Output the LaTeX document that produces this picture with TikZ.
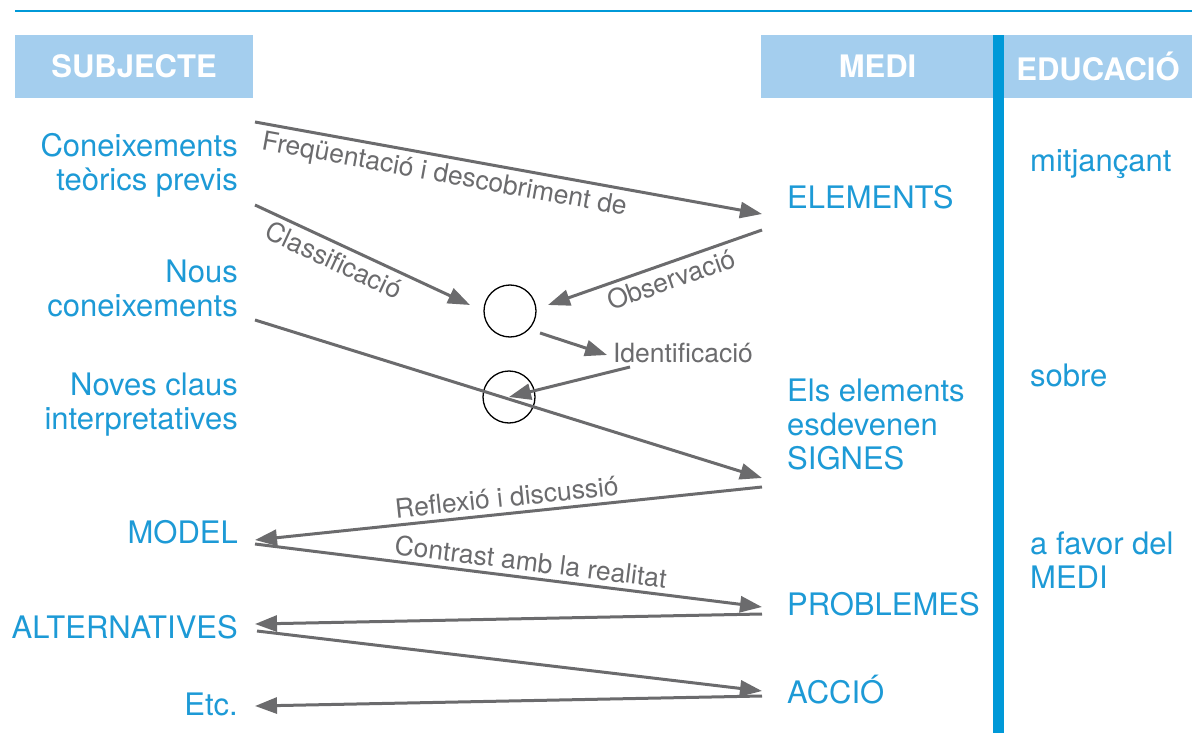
\documentclass[tikz,border=0pt]{standalone}
\usepackage{fontspec}
\setmainfont{TeX Gyre Heros}
\usepackage{tikz}
\usetikzlibrary{arrows.meta, positioning}

\definecolor{medblue}{HTML}{1D9AD6}
\definecolor{barblue}{HTML}{0099D8}
\definecolor{headblue}{HTML}{A4CEEE}
\definecolor{arrgray}{HTML}{6B6B6D}

\begin{document}
\begin{tikzpicture}[x=1pt, y=-1pt,
		txt/.style={text=medblue, font=\fontsize{31}{34}\selectfont, inner sep=0pt},
		lefttxt/.style={txt, anchor=east, align=right},
		righttxt/.style={txt, anchor=west, align=left},
		header/.style={fill=headblue, text=white, font=\fontsize{31}{34}\selectfont\bfseries, minimum height=63pt, inner sep=0pt},
		lbl/.style={text=arrgray, font=\fontsize{26.5}{28}\selectfont, inner sep=5pt},
		arr/.style={draw=arrgray, line width=3pt, -{Triangle[length=22pt,width=16pt]}},
		ring/.style={draw, circle, line width=1.3pt, minimum size=52pt, inner sep=0pt}]
		
		\useasboundingbox (0,0) rectangle (1192,749);
		
		% Header
		\draw[barblue, line width=2pt] (15,11) -- (1192,11);
		\node[header, minimum width=238pt] (hsubj) at (134,66.5) {SUBJECTE};
		\node[header, minimum width=233pt] (hmedi) at (877.5,66.5) {MEDI};
		\node[header, minimum width=188pt] (hedu) at (1098,66.5) {EDUCACIÓ};
		\fill[barblue] (993,35) rectangle (1004,733);
		
		% Nodes
		\node[lefttxt] (conei) at (238,165) {Coneixements\\teòrics previs};
		\node[lefttxt] (nous) at (238,288) {Nous\\coneixements};
		\node[lefttxt] (claus) at (238,405) {Noves claus\\interpretatives};
		\node[lefttxt] (model) at (238,532) {MODEL};
		\node[lefttxt] (alter) at (238,627) {ALTERNATIVES};
		\node[lefttxt] (etc) at (238,704) {Etc.};
		
		\node[righttxt] (elem) at (787,197) {ELEMENTS};
		\node[righttxt] (signes) at (787,424) {Els elements\\esdevenen\\SIGNES};
		\node[righttxt] (probl) at (787,604) {PROBLEMES};
		\node[righttxt] (accio) at (787,690) {ACCIÓ};
		
		\node[righttxt] (mitj) at (1030,164) {mitjançant};
		\node[righttxt] (sobre) at (1030,375) {sobre};
		\node[righttxt] (favor) at (1030,560) {a favor del\\MEDI};
		
		\node[ring] (circA) at (510,311) {};
		\node[ring] (circB) at (509,397) {};
		\node[lbl, inner sep=0pt] (ident) at (683,353) {Identificació};
		
		% Ends of the arrows
		\coordinate (f1) at (255,122); \coordinate (f2) at (762,214);
		\coordinate (c1) at (255,205); \coordinate (c2) at (470,305);
		\coordinate (o1) at (762,230); \coordinate (o2) at (548,305);
		\coordinate (i1) at (540,333); \coordinate (i2) at (607,355);
		\coordinate (d1) at (630,367);
		\coordinate (n1) at (255,320); \coordinate (n2) at (762,478);
		\coordinate (r1) at (762,487); \coordinate (r2) at (255,540);
		\coordinate (k1) at (255,544); \coordinate (k2) at (762,607);
		\coordinate (p1) at (762,614); \coordinate (p2) at (255,624);
		\coordinate (a1) at (257,631); \coordinate (a2) at (762,691);
		\coordinate (e1) at (762,696); \coordinate (e2) at (255,706);
		
		% Arrows
		\draw[arr] (f1) -- (f2) node[lbl, pos=0.38, below, sloped] {Freqüentació i descobriment de};
		\draw[arr] (c1) -- (c2) node[lbl, pos=0.4, below, sloped] {Classificació};
		\draw[arr] (o1) -- (o2) node[lbl, pos=0.45, below, sloped] {Observació};
		\draw[arr] (i1) -- (i2);
		\draw[arr] (d1) -- (circB.center);
		\draw[arr] (n1) -- (n2);
		\draw[arr] (r1) -- (r2) node[lbl, pos=0.5, above, sloped] {Reflexió i discussió};
		\draw[arr] (k1) -- (k2) node[lbl, pos=0.54, above, sloped] {Contrast amb la realitat};
		\draw[arr] (p1) -- (p2);
		\draw[arr] (a1) -- (a2);
		\draw[arr] (e1) -- (e2);
		
\end{tikzpicture}
\end{document}
